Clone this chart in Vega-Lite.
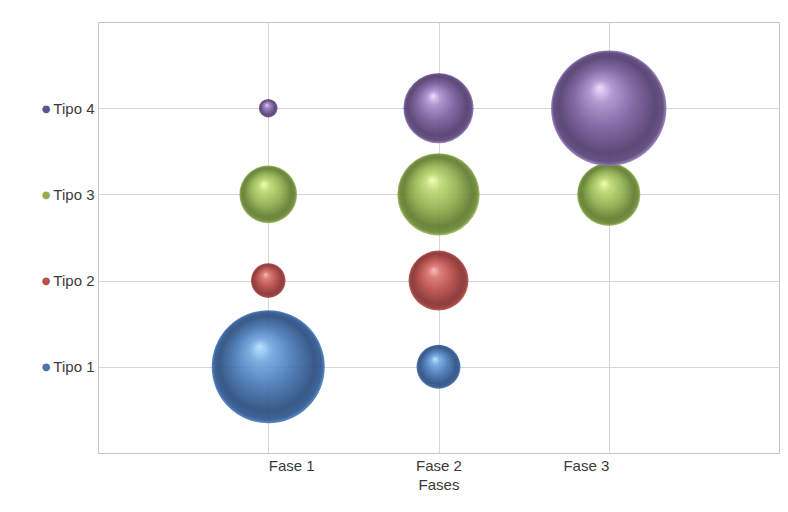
{
  "$schema": "https://vega.github.io/schema/vega-lite/v6.json",
  "width": 681,
  "height": 431,
  "autosize": {"type": "none"},
  "padding": {"left": 98, "top": 22, "right": 9, "bottom": 59},
  "background": "white",
  "config": {
    "view": {"stroke": "#c4c4c4", "strokeWidth": 1},
    "font": "Liberation Sans"
  },
  "data": {
    "values": [
      {"fase": "Fase 1", "tipo": "Tipo 1", "valor": 96},
      {"fase": "Fase 1", "tipo": "Tipo 2", "valor": 9},
      {"fase": "Fase 1", "tipo": "Tipo 3", "valor": 25},
      {"fase": "Fase 1", "tipo": "Tipo 4", "valor": 2.6},
      {"fase": "Fase 2", "tipo": "Tipo 1", "valor": 14.5},
      {"fase": "Fase 2", "tipo": "Tipo 2", "valor": 27},
      {"fase": "Fase 2", "tipo": "Tipo 3", "valor": 51},
      {"fase": "Fase 2", "tipo": "Tipo 4", "valor": 37},
      {"fase": "Fase 3", "tipo": "Tipo 3", "valor": 30},
      {"fase": "Fase 3", "tipo": "Tipo 4", "valor": 100}
    ]
  },
  "resolve": {"axis": {"y": "independent"}},
  "layer": [
    {
      "mark": {"type": "point", "shape": "circle", "filled": true, "opacity": 0.92, "strokeWidth": 0},
      "encoding": {
        "x": {
          "field": "fase", "type": "ordinal",
          "scale": {"type": "point", "padding": 1, "domain": ["Fase 1", "Fase 2", "Fase 3"]},
          "axis": {
            "title": "Fases", "grid": true, "gridColor": "#d6d6d6", "domain": false, "ticks": false,
            "labelAngle": 0, "labelPadding": 5, "labelFontSize": 15, "labelColor": "#3a3a3a",
            "labelAlign": {"expr": "datum.value === 'Fase 1' ? 'left' : datum.value === 'Fase 3' ? 'right' : 'center'"},
            "titleFontSize": 15, "titleFontWeight": "normal", "titleColor": "#3a3a3a", "titlePadding": 4
          }
        },
        "y": {
          "field": "tipo", "type": "ordinal",
          "scale": {"type": "point", "padding": 1, "domain": ["Tipo 4", "Tipo 3", "Tipo 2", "Tipo 1"]},
          "axis": {
            "orient": "left", "title": null, "grid": true, "gridColor": "#d6d6d6", "domain": false, "ticks": false,
            "labelPadding": 4, "labelFontSize": 15, "labelColor": "#3a3a3a"
          }
        },
        "size": {
          "field": "valor", "type": "quantitative",
          "scale": {"domain": [0, 100], "range": [0, 13317]},
          "legend": null
        },
        "fill": {
          "condition": [
            {"test": "datum.tipo === 'Tipo 1'", "value": {"gradient": "radial", "x1": 0.42, "y1": 0.32, "r1": 0, "x2": 0.5, "y2": 0.5, "r2": 0.5,
              "stops": [{"offset": 0, "color": "#b4e2ff"}, {"offset": 0.2, "color": "#72a6e0"}, {"offset": 0.52, "color": "#4676b4"}, {"offset": 0.84, "color": "#284c7e"}, {"offset": 0.95, "color": "#2c5690"}, {"offset": 1, "color": "#4e80c0"}]}},
            {"test": "datum.tipo === 'Tipo 2'", "value": {"gradient": "radial", "x1": 0.42, "y1": 0.32, "r1": 0, "x2": 0.5, "y2": 0.5, "r2": 0.5,
              "stops": [{"offset": 0, "color": "#f6b8b4"}, {"offset": 0.2, "color": "#d87470"}, {"offset": 0.52, "color": "#b84a47"}, {"offset": 0.84, "color": "#852e2c"}, {"offset": 0.95, "color": "#963634"}, {"offset": 1, "color": "#c46260"}]}},
            {"test": "datum.tipo === 'Tipo 3'", "value": {"gradient": "radial", "x1": 0.42, "y1": 0.32, "r1": 0, "x2": 0.5, "y2": 0.5, "r2": 0.5,
              "stops": [{"offset": 0, "color": "#efffb0"}, {"offset": 0.2, "color": "#bed874"}, {"offset": 0.52, "color": "#92b24e"}, {"offset": 0.84, "color": "#5e7a2c"}, {"offset": 0.95, "color": "#6a8832"}, {"offset": 1, "color": "#a6c466"}]}}
          ],
          "value": {"gradient": "radial", "x1": 0.42, "y1": 0.32, "r1": 0, "x2": 0.5, "y2": 0.5, "r2": 0.5,
            "stops": [{"offset": 0, "color": "#eed8ff"}, {"offset": 0.2, "color": "#aa90cc"}, {"offset": 0.52, "color": "#795c9c"}, {"offset": 0.84, "color": "#4f3a6c"}, {"offset": 0.95, "color": "#5a437a"}, {"offset": 1, "color": "#9880bc"}]}
        }
      }
    },
    {
      "mark": {"type": "point", "opacity": 0},
      "encoding": {
        "x": {"field": "fase", "type": "ordinal"},
        "y": {
          "field": "tipo", "type": "ordinal",
          "axis": {
            "orient": "left", "title": null, "grid": false, "domain": false, "ticks": false,
            "labelExpr": "'●'", "labelPadding": 48, "labelFont": "DejaVu Sans", "labelFontSize": 10,
            "labelColor": {"expr": "datum.value === 'Tipo 1' ? '#4f6fa8' : datum.value === 'Tipo 2' ? '#b5504e' : datum.value === 'Tipo 3' ? '#8fae50' : '#5e5490'"}
          }
        }
      }
    }
  ]
}
